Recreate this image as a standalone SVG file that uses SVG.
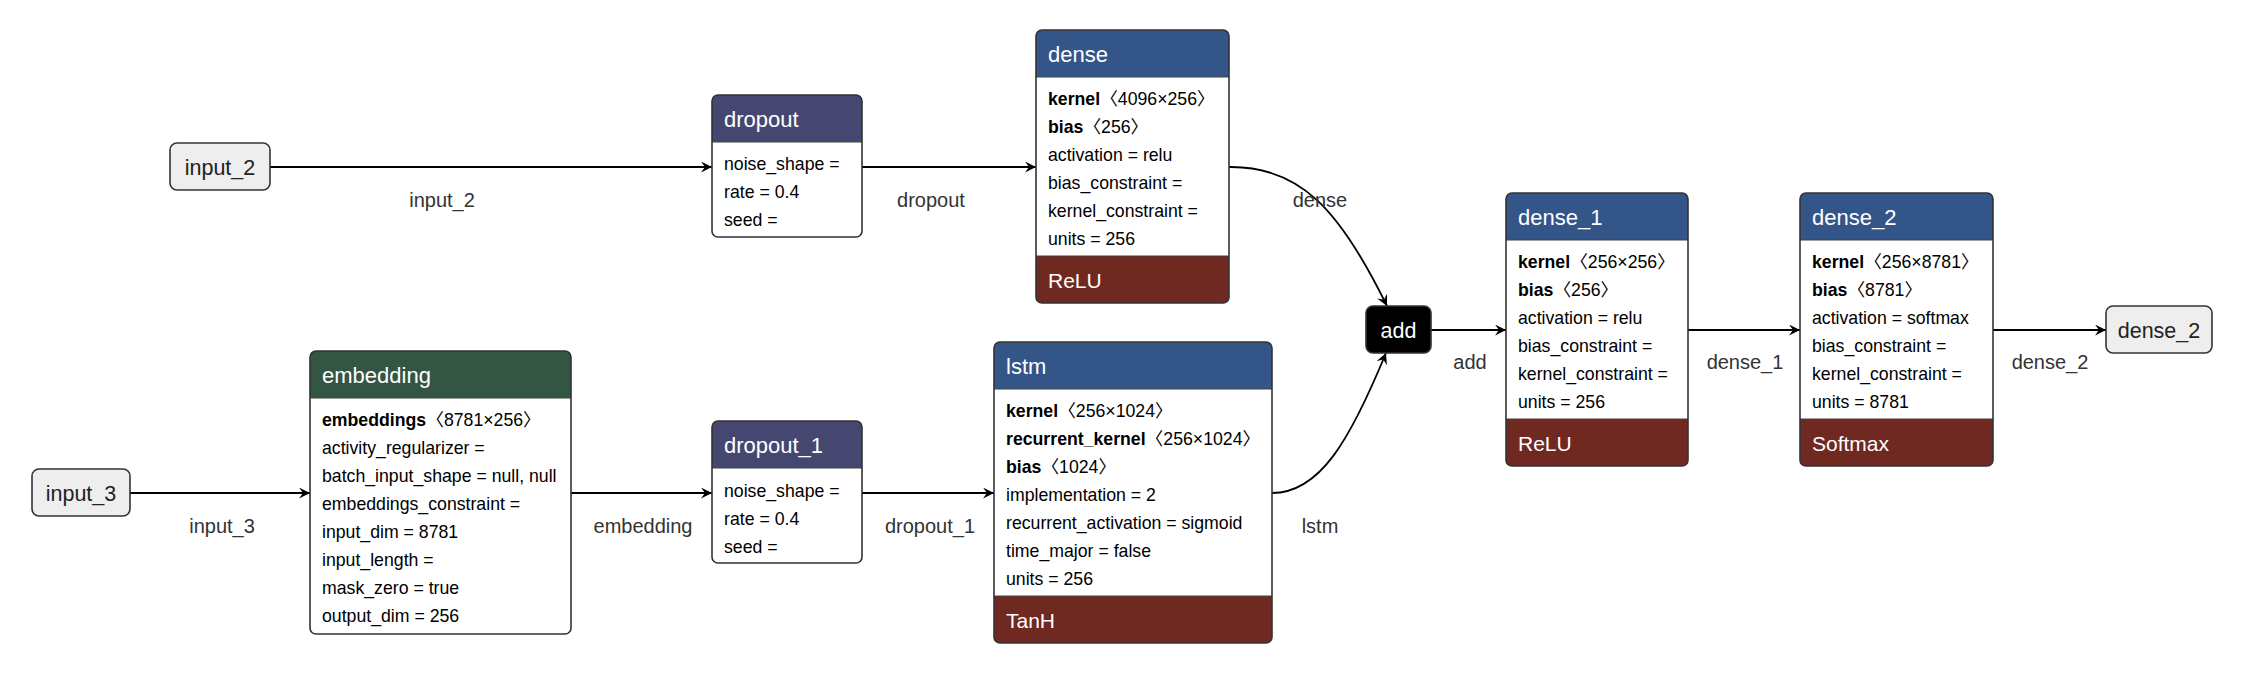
<svg xmlns="http://www.w3.org/2000/svg" width="2244" height="674" viewBox="0 0 2244 674">
<style>
text { font-family: "Liberation Sans", Arial, "Noto Sans CJK SC", sans-serif; }
.body { fill: #fff; }
.frame { fill: none; stroke: #333; stroke-width: 1.6; }
.layer { fill: #335588; }
.dropout { fill: #454770; }
.transform { fill: #335544; }
.activation { fill: #702921; }
.sep { stroke: #444; stroke-width: 1.2; }
.title { fill: #fff; font-size: 22px; }
.foot { fill: #fff; font-size: 21px; }
.attr { fill: #000; font-size: 17.7px; }
.attr .n { font-weight: bold; }
.input { fill: #eee; stroke: #333; stroke-width: 1.6; }
.ilabel { fill: #222; font-size: 21.5px; text-anchor: middle; }
.op { fill: #000; stroke: #333; stroke-width: 1.6; }
.oplabel { fill: #fff; font-size: 21.5px; text-anchor: middle; }
.edge { fill: none; stroke: #000; stroke-width: 1.8; marker-end: url(#arrow); }
.elabel { fill: #333; font-size: 20px; text-anchor: middle; }
</style>
<defs>
<marker id="arrow" viewBox="0 0 11 11" refX="11" refY="5.5" markerWidth="11" markerHeight="11" markerUnits="userSpaceOnUse" orient="auto">
<path d="M0,0 L11,5.5 L0,11 L4,5.5 z" fill="#000"/>
</marker>
</defs>

<g id="connectors">
<path class="edge" d="M270,167 H712"/>
<path class="edge" d="M862,167 H1036"/>
<path class="edge" d="M1229,167 C1300,166 1340,210 1387,306"/>
<path class="edge" d="M130,493 H310"/>
<path class="edge" d="M571,493 H712"/>
<path class="edge" d="M862,493 H994"/>
<path class="edge" d="M1272,493 C1320,493 1350,440 1386,353"/>
<path class="edge" d="M1431,330 H1506"/>
<path class="edge" d="M1688,330 H1800"/>
<path class="edge" d="M1993,330 H2106"/>
<text class="elabel" x="442" y="207">input_2</text>
<text class="elabel" x="931" y="207">dropout</text>
<text class="elabel" x="1320" y="207">dense</text>
<text class="elabel" x="222" y="533">input_3</text>
<text class="elabel" x="643" y="533">embedding</text>
<text class="elabel" x="930" y="533">dropout_1</text>
<text class="elabel" x="1320" y="533">lstm</text>
<text class="elabel" x="1470" y="369">add</text>
<text class="elabel" x="1745" y="369">dense_1</text>
<text class="elabel" x="2050" y="369">dense_2</text>
</g>

<g id="input_2">
<rect class="input" x="170" y="143" width="100" height="47" rx="7"/>
<text class="ilabel" x="220" y="175">input_2</text>
</g>

<g id="input_3">
<rect class="input" x="32" y="469" width="98" height="47" rx="7"/>
<text class="ilabel" x="81" y="501">input_3</text>
</g>

<g id="dropout">
<rect class="body" x="712" y="95" width="150" height="142" rx="6"/>
<path class="dropout" d="M712,142 V101 Q712,95 718,95 H856 Q862,95 862,101 V142 Z"/>
<line class="sep" x1="712" y1="142" x2="862" y2="142"/>
<rect class="frame" x="712" y="95" width="150" height="142" rx="6"/>
<text class="title" x="724" y="127">dropout</text>
<text class="attr" x="724" y="170">noise_shape =</text>
<text class="attr" x="724" y="198">rate = 0.4</text>
<text class="attr" x="724" y="226">seed =</text>
</g>

<g id="dense">
<rect class="body" x="1036" y="30" width="193" height="273" rx="6"/>
<path class="layer" d="M1036,77 V36 Q1036,30 1042,30 H1223 Q1229,30 1229,36 V77 Z"/>
<path class="activation" d="M1036,256 H1229 V297 Q1229,303 1223,303 H1042 Q1036,303 1036,297 Z"/>
<line class="sep" x1="1036" y1="77" x2="1229" y2="77"/>
<line class="sep" x1="1036" y1="256" x2="1229" y2="256"/>
<rect class="frame" x="1036" y="30" width="193" height="273" rx="6"/>
<text class="title" x="1048" y="62">dense</text>
<text class="attr" x="1048" y="105"><tspan class="n">kernel</tspan>〈4096×256〉</text>
<text class="attr" x="1048" y="133"><tspan class="n">bias</tspan>〈256〉</text>
<text class="attr" x="1048" y="161">activation = relu</text>
<text class="attr" x="1048" y="189">bias_constraint =</text>
<text class="attr" x="1048" y="217">kernel_constraint =</text>
<text class="attr" x="1048" y="245">units = 256</text>
<text class="foot" x="1048" y="288">ReLU</text>
</g>

<g id="embedding">
<rect class="body" x="310" y="351" width="261" height="283" rx="6"/>
<path class="transform" d="M310,398 V357 Q310,351 316,351 H565 Q571,351 571,357 V398 Z"/>
<line class="sep" x1="310" y1="398" x2="571" y2="398"/>
<rect class="frame" x="310" y="351" width="261" height="283" rx="6"/>
<text class="title" x="322" y="383">embedding</text>
<text class="attr" x="322" y="426"><tspan class="n">embeddings</tspan>〈8781×256〉</text>
<text class="attr" x="322" y="454">activity_regularizer =</text>
<text class="attr" x="322" y="482">batch_input_shape = null, null</text>
<text class="attr" x="322" y="510">embeddings_constraint =</text>
<text class="attr" x="322" y="538">input_dim = 8781</text>
<text class="attr" x="322" y="566">input_length =</text>
<text class="attr" x="322" y="594">mask_zero = true</text>
<text class="attr" x="322" y="622">output_dim = 256</text>
</g>

<g id="dropout_1">
<rect class="body" x="712" y="421" width="150" height="142" rx="6"/>
<path class="dropout" d="M712,468 V427 Q712,421 718,421 H856 Q862,421 862,427 V468 Z"/>
<line class="sep" x1="712" y1="468" x2="862" y2="468"/>
<rect class="frame" x="712" y="421" width="150" height="142" rx="6"/>
<text class="title" x="724" y="453">dropout_1</text>
<text class="attr" x="724" y="497">noise_shape =</text>
<text class="attr" x="724" y="525">rate = 0.4</text>
<text class="attr" x="724" y="553">seed =</text>
</g>

<g id="lstm">
<rect class="body" x="994" y="342" width="278" height="301" rx="6"/>
<path class="layer" d="M994,389 V348 Q994,342 1000,342 H1266 Q1272,342 1272,348 V389 Z"/>
<path class="activation" d="M994,596 H1272 V637 Q1272,643 1266,643 H1000 Q994,643 994,637 Z"/>
<line class="sep" x1="994" y1="389" x2="1272" y2="389"/>
<line class="sep" x1="994" y1="596" x2="1272" y2="596"/>
<rect class="frame" x="994" y="342" width="278" height="301" rx="6"/>
<text class="title" x="1006" y="374">lstm</text>
<text class="attr" x="1006" y="417"><tspan class="n">kernel</tspan>〈256×1024〉</text>
<text class="attr" x="1006" y="445"><tspan class="n">recurrent_kernel</tspan>〈256×1024〉</text>
<text class="attr" x="1006" y="473"><tspan class="n">bias</tspan>〈1024〉</text>
<text class="attr" x="1006" y="501">implementation = 2</text>
<text class="attr" x="1006" y="529">recurrent_activation = sigmoid</text>
<text class="attr" x="1006" y="557">time_major = false</text>
<text class="attr" x="1006" y="585">units = 256</text>
<text class="foot" x="1006" y="628">TanH</text>
</g>

<g id="add">
<rect class="op" x="1366" y="306" width="65" height="47" rx="7"/>
<text class="oplabel" x="1398.5" y="338">add</text>
</g>

<g id="dense_1">
<rect class="body" x="1506" y="193" width="182" height="273" rx="6"/>
<path class="layer" d="M1506,240 V199 Q1506,193 1512,193 H1682 Q1688,193 1688,199 V240 Z"/>
<path class="activation" d="M1506,419 H1688 V460 Q1688,466 1682,466 H1512 Q1506,466 1506,460 Z"/>
<line class="sep" x1="1506" y1="240" x2="1688" y2="240"/>
<line class="sep" x1="1506" y1="419" x2="1688" y2="419"/>
<rect class="frame" x="1506" y="193" width="182" height="273" rx="6"/>
<text class="title" x="1518" y="225">dense_1</text>
<text class="attr" x="1518" y="268"><tspan class="n">kernel</tspan>〈256×256〉</text>
<text class="attr" x="1518" y="296"><tspan class="n">bias</tspan>〈256〉</text>
<text class="attr" x="1518" y="324">activation = relu</text>
<text class="attr" x="1518" y="352">bias_constraint =</text>
<text class="attr" x="1518" y="380">kernel_constraint =</text>
<text class="attr" x="1518" y="408">units = 256</text>
<text class="foot" x="1518" y="451">ReLU</text>
</g>

<g id="dense_2">
<rect class="body" x="1800" y="193" width="193" height="273" rx="6"/>
<path class="layer" d="M1800,240 V199 Q1800,193 1806,193 H1987 Q1993,193 1993,199 V240 Z"/>
<path class="activation" d="M1800,419 H1993 V460 Q1993,466 1987,466 H1806 Q1800,466 1800,460 Z"/>
<line class="sep" x1="1800" y1="240" x2="1993" y2="240"/>
<line class="sep" x1="1800" y1="419" x2="1993" y2="419"/>
<rect class="frame" x="1800" y="193" width="193" height="273" rx="6"/>
<text class="title" x="1812" y="225">dense_2</text>
<text class="attr" x="1812" y="268"><tspan class="n">kernel</tspan>〈256×8781〉</text>
<text class="attr" x="1812" y="296"><tspan class="n">bias</tspan>〈8781〉</text>
<text class="attr" x="1812" y="324">activation = softmax</text>
<text class="attr" x="1812" y="352">bias_constraint =</text>
<text class="attr" x="1812" y="380">kernel_constraint =</text>
<text class="attr" x="1812" y="408">units = 8781</text>
<text class="foot" x="1812" y="451">Softmax</text>
</g>

<g id="output_dense_2">
<rect class="input" x="2106" y="306" width="106" height="47" rx="7"/>
<text class="ilabel" x="2159" y="338">dense_2</text>
</g>
</svg>
